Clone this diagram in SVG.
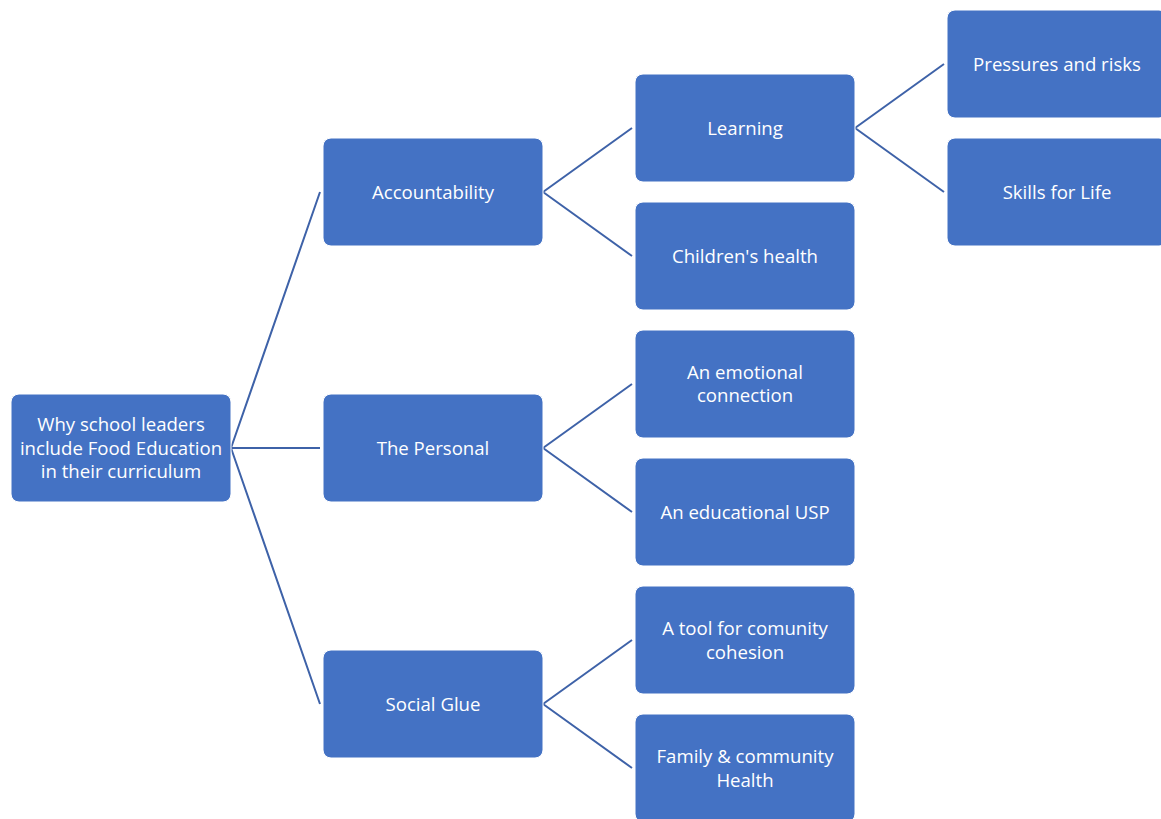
<svg xmlns="http://www.w3.org/2000/svg" width="1161" height="819" viewBox="0 0 1161 819">
<style>
.n{fill:#4472C4;stroke:#ffffff;stroke-width:1}
.t{fill:#ffffff;font-family:"Open Sans","Noto Sans",sans-serif;font-size:18.6px;text-anchor:middle}
.c{stroke:#3E62A8;stroke-width:2;fill:none}
</style>
<rect width="1161" height="819" fill="#ffffff"/>
<g id="connectors">
<path class="c" d="M231,448 L320,192 M231,448 L320,448 M231,448 L320,704"/>
<path class="c" d="M543,192 L632,128 M543,192 L632,256"/>
<path class="c" d="M543,448 L632,384 M543,448 L632,512"/>
<path class="c" d="M543,704 L632,640 M543,704 L632,768"/>
<path class="c" d="M855,128 L944,64 M855,128 L944,192"/>
</g>
<g id="root"><rect class="n" x="11" y="394" width="220" height="108" rx="8"/>
<text class="t" x="121" y="431">Why school leaders</text><text class="t" x="121" y="455">include Food Education</text><text class="t" x="121" y="478">in their curriculum</text></g>
<g id="accountability"><rect class="n" x="323" y="138" width="220" height="108" rx="8"/><text class="t" x="433" y="199">Accountability</text></g>
<g id="personal"><rect class="n" x="323" y="394" width="220" height="108" rx="8"/><text class="t" x="433" y="455">The Personal</text></g>
<g id="socialglue"><rect class="n" x="323" y="650" width="220" height="108" rx="8"/><text class="t" x="433" y="711">Social Glue</text></g>
<g id="learning"><rect class="n" x="635" y="74" width="220" height="108" rx="8"/><text class="t" x="745" y="135">Learning</text></g>
<g id="childrenshealth"><rect class="n" x="635" y="202" width="220" height="108" rx="8"/><text class="t" x="745" y="263">Children's health</text></g>
<g id="emotional"><rect class="n" x="635" y="330" width="220" height="108" rx="8"/><text class="t" x="745" y="379">An emotional</text><text class="t" x="745" y="402">connection</text></g>
<g id="usp"><rect class="n" x="635" y="458" width="220" height="108" rx="8"/><text class="t" x="745" y="519">An educational USP</text></g>
<g id="cohesion"><rect class="n" x="635" y="586" width="220" height="108" rx="8"/><text class="t" x="745" y="635">A tool for comunity</text><text class="t" x="745" y="659">cohesion</text></g>
<g id="family"><rect class="n" x="635" y="714" width="220" height="108" rx="8"/><text class="t" x="745" y="763">Family &amp; community</text><text class="t" x="745" y="787">Health</text></g>
<g id="pressures"><rect class="n" x="947" y="10" width="220" height="108" rx="8"/><text class="t" x="1057" y="71">Pressures and risks</text></g>
<g id="skills"><rect class="n" x="947" y="138" width="220" height="108" rx="8"/><text class="t" x="1057" y="199">Skills for Life</text></g>
</svg>
